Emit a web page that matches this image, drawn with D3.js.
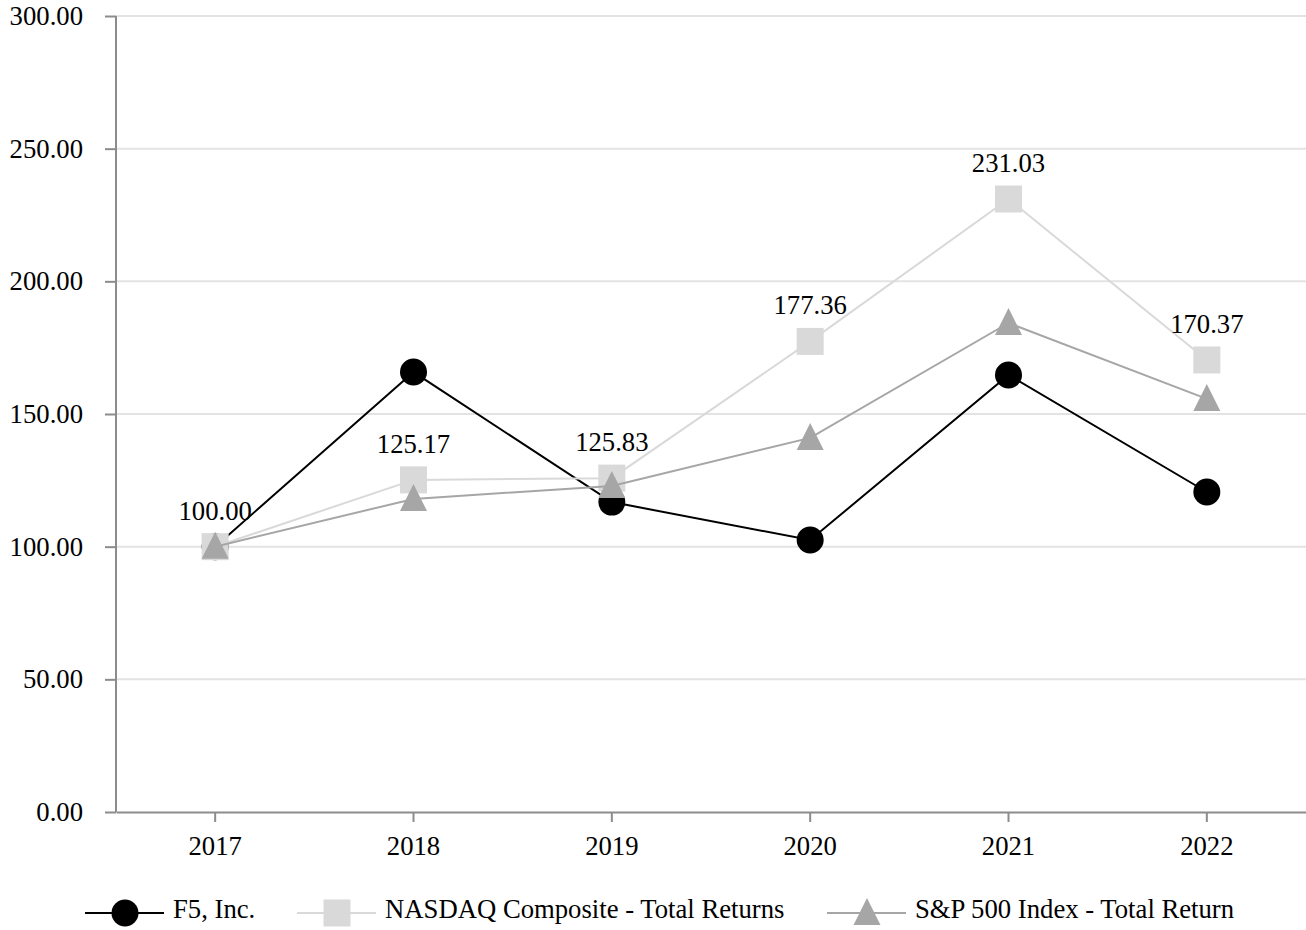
<!DOCTYPE html>
<html lang="en">
<head>
  <meta charset="UTF-8" />
  <title>Cumulative total return</title>
  <script src="https://d3js.org/d3.v7.min.js"></script>
  <style>
    body { margin: 0; background: #fff; }
    svg { display: block; font-family: "Liberation Serif", "Times New Roman", serif; }
  </style>
</head>
<body>
  <svg id="chart" width="1306" height="930"></svg>
  <script>
    // data
    const years = ["2017", "2018", "2019", "2020", "2021", "2022"];
    const f5Values = [100.00, 165.8, 116.8, 102.5, 164.7, 120.6];
    const nasdaqValues = [100.00, 125.17, 125.83, 177.36, 231.03, 170.37];
    const spValues = [100.00, 118.0, 122.9, 141.0, 184.3, 155.7];
    const yTicks = [0, 50, 100, 150, 200, 250, 300];

    const series = [
      { name: "F5, Inc.", values: f5Values, color: "#000000", shape: "circle" },
      { name: "NASDAQ Composite - Total Returns", values: nasdaqValues, color: "#d9d9d9", shape: "square" },
      { name: "S&P 500 Index - Total Return", values: spValues, color: "#a6a6a6", shape: "triangle" }
    ];

    const fontSize = 26.7;
    const margin = { top: 16, right: 0, bottom: 118, left: 116 };
    const width = 1306, height = 930;
    const svg = d3.select("#chart");

    const x = d3.scaleBand().domain(years).range([margin.left, width - margin.right]);
    const y = d3.scaleLinear().domain([0, 300]).range([height - margin.bottom, margin.top]);
    const cx = d => x(d) + x.bandwidth() / 2;

    // gridlines
    svg.append("g")
      .selectAll("line").data(yTicks.filter(t => t > 0)).join("line")
      .attr("x1", margin.left).attr("x2", width - margin.right)
      .attr("y1", d => y(d)).attr("y2", d => y(d))
      .attr("stroke", "#e3e3e3").attr("stroke-width", 2);

    // y axis
    const yAxis = svg.append("g")
      .attr("transform", `translate(${margin.left},0)`)
      .attr("font-family", "Liberation Serif")
      .call(d3.axisLeft(y).tickValues(yTicks).tickFormat(d3.format(".2f")).tickSize(11).tickPadding(22));
    yAxis.attr("font-family", "Liberation Serif");
    yAxis.select(".domain").attr("stroke", "#8c8c8c").attr("stroke-width", 2).attr("d", `M0,${y(300)}V${y(0)}`);
    yAxis.selectAll(".tick line").attr("stroke", "#8c8c8c").attr("stroke-width", 2);
    yAxis.selectAll(".tick text").attr("font-size", fontSize).attr("fill", "#000");

    // x axis
    const xAxis = svg.append("g")
      .attr("transform", `translate(0,${y(0)})`)
      .call(d3.axisBottom(x).tickSize(10).tickPadding(14).tickSizeOuter(0));
    xAxis.attr("font-family", "Liberation Serif");
    xAxis.select(".domain").attr("stroke", "#8c8c8c").attr("stroke-width", 2);
    xAxis.selectAll(".tick line").attr("stroke", "#8c8c8c").attr("stroke-width", 2);
    xAxis.selectAll(".tick text").attr("font-size", fontSize).attr("fill", "#000");

    const line = d3.line().x((d, i) => cx(years[i])).y(d => y(d));

    function marker(g, shape, color, px, py) {
      if (shape === "circle") {
        g.append("circle").attr("cx", px).attr("cy", py).attr("r", 13.5).attr("fill", color);
      } else if (shape === "square") {
        g.append("rect").attr("x", px - 13.5).attr("y", py - 13.5)
          .attr("width", 27).attr("height", 27).attr("fill", color);
      } else {
        g.append("path")
          .attr("d", `M${px},${py - 15}L${px + 13.5},${py + 12}L${px - 13.5},${py + 12}Z`)
          .attr("fill", color);
      }
    }

    series.forEach(s => {
      const g = svg.append("g");
      g.append("path").datum(s.values)
        .attr("d", line).attr("fill", "none")
        .attr("stroke", s.color).attr("stroke-width", 2);
      s.values.forEach((v, i) => marker(g, s.shape, s.color, cx(years[i]), y(v)));
    });

    // data labels for NASDAQ
    svg.append("g").selectAll("text").data(nasdaqValues).join("text")
      .attr("x", (d, i) => cx(years[i]))
      .attr("y", d => y(d) - 27)
      .attr("text-anchor", "middle")
      .attr("font-size", fontSize)
      .text(d => d3.format(".2f")(d));

    // legend
    const legendPos = [85, 297, 827];
    const legendY = 913;
    series.forEach((s, i) => {
      const g = svg.append("g");
      const x0 = legendPos[i];
      g.append("line").attr("x1", x0).attr("x2", x0 + 79)
        .attr("y1", legendY).attr("y2", legendY)
        .attr("stroke", s.color).attr("stroke-width", 2);
      marker(g, s.shape, s.color, x0 + 40, legendY);
      g.append("text").attr("x", x0 + 88).attr("y", legendY + 5)
        .attr("font-size", fontSize).text(s.name);
    });
  </script>
</body>
</html>
